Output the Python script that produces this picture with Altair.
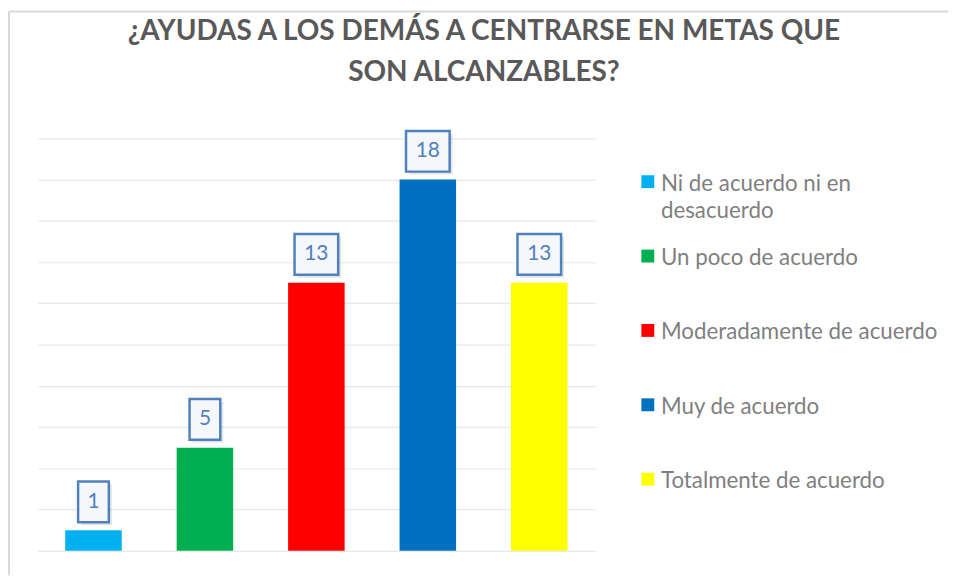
import altair as alt
import pandas as pd

categories = [
    "Ni de acuerdo ni en desacuerdo",
    "Un poco de acuerdo",
    "Moderadamente de acuerdo",
    "Muy de acuerdo",
    "Totalmente de acuerdo",
]
values = [1, 5, 13, 18, 13]
colors = ["#00B0F0", "#00B050", "#FF0000", "#0070C0", "#FFFF00"]
title_lines = ["¿AYUDAS A LOS DEMÁS A CENTRARSE EN METAS QUE", "SON ALCANZABLES?"]
grid_values = [0, 2, 4, 6, 8, 10, 12, 14, 16, 18, 20]

df = pd.DataFrame({"categoria": categories, "valor": values})

FONT = "Lato"

x = alt.X("categoria:N", sort=categories, axis=None,
          scale=alt.Scale(paddingInner=0, paddingOuter=0))
y = alt.Y("valor:Q", scale=alt.Scale(domain=[0, 20], nice=False),
          axis=alt.Axis(values=grid_values, labels=False, ticks=False, domain=False,
                        grid=True, gridColor="#E8E8E8", gridWidth=1.2, title=None))

base = alt.Chart(df).encode(x=x)

bars = base.mark_bar(width=57).encode(
    y=y,
    color=alt.Color(
        "categoria:N", sort=categories,
        scale=alt.Scale(domain=categories, range=colors),
        legend=alt.Legend(
            title=None, orient="none", legendX=604, legendY=32.5,
            direction="vertical", symbolType="square", symbolSize=169,
            symbolStrokeWidth=0, symbolOpacity=1,
            labelFont=FONT, labelFontSize=22.5, labelColor="#7F7F7F",
            labelOffset=2, rowPadding=22, labelLimit=400,
            labelExpr="datum.label == 'Ni de acuerdo ni en desacuerdo' ? ['Ni de acuerdo ni en', 'desacuerdo'] : [datum.label, '']",
        ),
    ),
)

box_base = base.transform_calculate(bw="length(toString(datum.valor)) * 13 + 18")

shadow = box_base.mark_bar(fill="#000000", fillOpacity=0.10, xOffset=3,
                           yOffset=-5, y2Offset=-46).encode(
    y="valor:Q", y2="valor:Q", size=alt.Size("bw:Q", scale=None, legend=None))

boxes = box_base.mark_bar(fill="#F5F7FB", stroke="#4F81BD", strokeWidth=2.5,
                          yOffset=-8, y2Offset=-49).encode(
    y="valor:Q", y2="valor:Q", size=alt.Size("bw:Q", scale=None, legend=None))

labels = base.mark_text(dy=-28.5, fontSize=21, font=FONT, color="#4F81BD",
                        baseline="middle").encode(y="valor:Q", text="valor:Q")

frame_data = alt.Data(values=[{"k": 1}])
frame_left = alt.Chart(frame_data).mark_rule(color="#D9D9D9", strokeWidth=2).encode(
    x=alt.value(-29), y=alt.value(-128), y2=alt.value(441))
frame_top = alt.Chart(frame_data).mark_rule(color="#D9D9D9", strokeWidth=2).encode(
    x=alt.value(-29), x2=alt.value(920), y=alt.value(-128))

chart = alt.layer(bars, shadow, boxes, labels, frame_left, frame_top).properties(
    width=562, height=416,
    title=alt.TitleParams(
        text=title_lines, font=FONT, fontSize=28.2, fontWeight="bold", color="#595959",
        anchor="middle", frame="group", dx=169, offset=0, dy=77.5, lineHeight=41,
    ),
    autosize=alt.AutoSizeParams(type="none"),
    padding={"left": 30, "top": 129, "right": 356, "bottom": 25},
).configure(
    background="white",
    style={"guide-label": {"lineHeight": 28, "dy": 2}},
).configure_view(stroke=None)

chart.save("out.html", embed_options={"renderer": "svg", "actions": False})
